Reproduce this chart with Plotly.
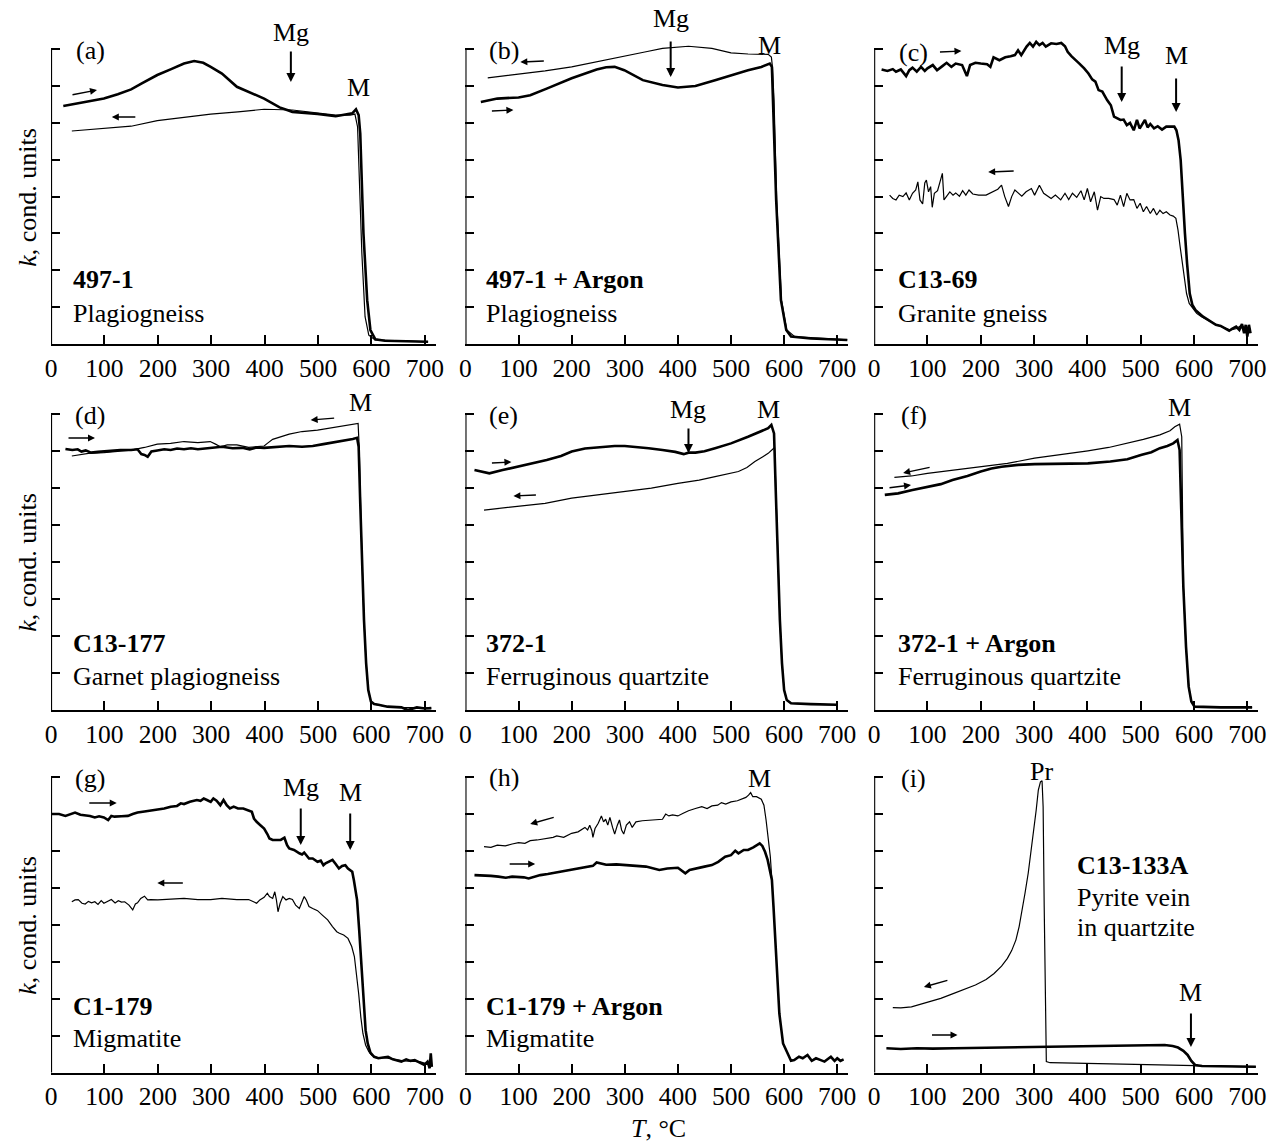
import plotly.graph_objects as go
from plotly.subplots import make_subplots

W, H = 1284, 1142
FONT = "Liberation Serif, Times New Roman, serif"

# ---------------- data (T in °C, k in conditional units) ----------------
# (a) 497-1
a_heat_T = [23, 60, 99, 125, 150, 170, 199, 225, 249, 268, 285, 299, 320, 348, 370, 399, 428, 452, 499, 533, 564, 571, 576, 579, 585, 592, 598, 607, 625, 700, 706]
a_heat_k = [6.46, 6.56, 6.66, 6.78, 6.91, 7.07, 7.30, 7.46, 7.61, 7.68, 7.63, 7.52, 7.34, 6.98, 6.84, 6.66, 6.42, 6.30, 6.24, 6.18, 6.26, 6.37, 6.21, 5.71, 3.00, 1.19, 0.38, 0.13, 0.09, 0.06, 0.06]
a_cool_T = [39, 99, 150, 199, 250, 299, 350, 399, 452, 499, 533, 560, 569, 574, 578, 582, 588, 595, 607, 650, 706]
a_cool_k = [5.78, 5.85, 5.91, 6.06, 6.15, 6.24, 6.30, 6.37, 6.35, 6.27, 6.21, 6.21, 6.24, 5.89, 4.27, 2.46, 0.74, 0.24, 0.11, 0.08, 0.06]

# (b) 497-1 + Argon
b_heat_T = [29, 60, 100, 122, 153, 200, 247, 265, 281, 299, 334, 371, 400, 433, 470, 500, 532, 557, 573, 577, 579, 585, 594, 604, 613, 650, 719]
b_heat_k = [6.57, 6.66, 6.69, 6.75, 6.93, 7.21, 7.45, 7.51, 7.52, 7.43, 7.16, 7.03, 6.96, 7.00, 7.16, 7.30, 7.43, 7.52, 7.61, 7.52, 6.62, 3.91, 1.19, 0.38, 0.20, 0.15, 0.11]
b_cool_T = [42, 100, 150, 200, 250, 299, 340, 371, 420, 464, 500, 532, 570, 576, 578, 581, 586, 595, 605, 620, 719]
b_cool_k = [7.22, 7.32, 7.41, 7.52, 7.66, 7.81, 7.93, 8.02, 8.08, 8.02, 7.90, 7.87, 7.86, 7.79, 7.52, 6.62, 3.91, 1.19, 0.38, 0.20, 0.11]

# (c) C13-69
c_heat_T = [14, 25, 35, 41, 50, 60, 66, 72, 80, 88, 95, 100, 110, 118, 128, 136, 145, 153, 165, 174, 180, 190, 200, 212, 218, 224, 235, 246, 256, 264, 270, 276, 286, 292, 298, 304, 310, 316, 322, 332, 342, 351, 358, 363, 370, 376, 385, 394, 402, 409, 415, 421, 428, 437, 444, 450, 456, 462, 468, 474, 480, 487, 493, 498, 502, 508, 513, 518, 525, 532, 540, 548, 556, 563, 567, 571, 575, 579, 583, 587, 592, 597, 603, 610, 617, 625, 634, 641, 650, 658, 666, 672, 679, 685, 690, 694, 697, 700, 703, 706]
c_heat_k = [7.45, 7.41, 7.46, 7.39, 7.45, 7.27, 7.43, 7.50, 7.39, 7.52, 7.41, 7.48, 7.57, 7.43, 7.54, 7.63, 7.52, 7.61, 7.57, 7.27, 7.57, 7.63, 7.61, 7.59, 7.52, 7.78, 7.70, 7.78, 7.81, 7.84, 7.97, 7.84, 8.07, 8.17, 8.07, 8.20, 8.11, 8.17, 8.07, 8.16, 8.14, 8.17, 8.08, 7.93, 7.81, 7.72, 7.61, 7.48, 7.34, 7.18, 7.12, 6.89, 6.85, 6.62, 6.48, 6.17, 6.12, 6.08, 6.09, 5.94, 6.00, 5.80, 6.08, 5.85, 5.94, 6.08, 5.88, 5.97, 5.85, 5.91, 5.82, 5.90, 5.90, 5.90, 5.80, 5.53, 4.99, 3.91, 3.00, 2.19, 1.37, 1.06, 0.92, 0.83, 0.74, 0.67, 0.58, 0.52, 0.49, 0.42, 0.36, 0.42, 0.47, 0.38, 0.54, 0.29, 0.52, 0.20, 0.52, 0.29]
c_cool_T = [29, 35, 41, 47, 54, 60, 66, 72, 78, 82, 86, 91, 95, 98, 102, 106, 109, 113, 119, 124, 128, 131, 136, 142, 148, 153, 160, 166, 172, 178, 185, 196, 210, 222, 232, 239, 245, 252, 258, 264, 270, 277, 285, 295, 301, 310, 318, 326, 332, 340, 350, 358, 365, 372, 380, 388, 394, 400, 406, 413, 419, 425, 431, 440, 450, 456, 462, 468, 474, 480, 487, 493, 499, 505, 511, 518, 524, 530, 536, 542, 548, 555, 561, 566, 570, 574, 578, 582, 586, 591, 597, 605, 614, 625, 640, 655, 668, 680, 690, 700, 706]
c_cool_k = [4.04, 3.95, 3.91, 4.04, 4.00, 4.10, 3.91, 4.09, 4.18, 4.40, 3.91, 3.80, 4.37, 4.45, 4.13, 4.27, 3.71, 4.09, 4.16, 4.45, 4.63, 3.91, 4.00, 4.13, 4.04, 4.10, 4.01, 4.16, 4.04, 4.18, 4.07, 4.04, 4.04, 4.13, 4.20, 4.31, 4.00, 3.73, 4.00, 4.18, 4.10, 4.01, 4.13, 4.22, 4.04, 4.31, 4.09, 4.00, 3.95, 4.04, 3.91, 4.09, 3.92, 4.09, 3.98, 4.16, 3.91, 4.22, 3.86, 4.13, 3.63, 4.00, 3.95, 3.95, 3.92, 3.77, 4.04, 3.73, 4.09, 3.91, 3.92, 3.68, 3.82, 3.59, 3.73, 3.54, 3.68, 3.50, 3.63, 3.54, 3.59, 3.50, 3.47, 3.41, 3.09, 2.64, 2.19, 1.74, 1.37, 1.10, 0.97, 0.83, 0.74, 0.65, 0.54, 0.45, 0.38, 0.42, 0.52, 0.29, 0.38]

# (d) C13-177
d_heat_T = [27, 40, 50, 57, 65, 75, 88, 99, 115, 130, 150, 162, 169, 175, 181, 188, 199, 212, 224, 236, 249, 262, 275, 298, 320, 340, 358, 372, 385, 399, 420, 446, 470, 490, 510, 533, 550, 565, 573, 576, 579, 582, 586, 590, 594, 599, 605, 613, 630, 656, 668, 685, 700, 712]
d_heat_k = [7.05, 7.02, 7.04, 6.98, 7.01, 6.95, 6.97, 6.98, 7.01, 7.02, 7.02, 7.04, 6.91, 6.89, 6.84, 6.98, 7.01, 7.04, 7.02, 7.06, 7.04, 7.07, 7.04, 7.08, 7.11, 7.07, 7.08, 7.04, 7.09, 7.08, 7.11, 7.13, 7.11, 7.13, 7.18, 7.23, 7.27, 7.32, 7.35, 7.11, 5.58, 4.23, 2.43, 1.26, 0.54, 0.23, 0.16, 0.14, 0.09, 0.07, 0.00, 0.07, 0.04, 0.05]
d_cool_T = [39, 55, 70, 99, 120, 150, 175, 199, 224, 249, 275, 298, 308, 317, 330, 348, 370, 399, 405, 415, 446, 470, 499, 520, 545, 565, 575, 577, 579, 582, 586, 590, 594, 599, 605, 613, 630, 656, 685, 712]
d_cool_k = [6.86, 6.89, 6.93, 6.95, 6.98, 7.02, 7.09, 7.18, 7.20, 7.25, 7.22, 7.25, 7.18, 7.11, 7.16, 7.16, 7.09, 7.13, 7.20, 7.31, 7.45, 7.52, 7.56, 7.61, 7.65, 7.71, 7.74, 7.11, 5.58, 4.23, 2.43, 1.26, 0.54, 0.23, 0.16, 0.14, 0.09, 0.07, 0.07, 0.05]

# (e) 372-1
e_heat_T = [17, 30, 45, 70, 100, 130, 153, 180, 200, 225, 247, 265, 281, 300, 321, 345, 371, 395, 411, 420, 433, 450, 470, 500, 532, 557, 570, 576, 581, 584, 588, 592, 596, 600, 605, 613, 650, 700]
e_heat_k = [6.48, 6.44, 6.39, 6.48, 6.57, 6.68, 6.75, 6.86, 6.98, 7.06, 7.09, 7.12, 7.13, 7.13, 7.11, 7.07, 7.02, 6.97, 6.91, 6.95, 6.95, 6.99, 7.07, 7.20, 7.38, 7.52, 7.61, 7.70, 7.47, 6.03, 4.23, 2.43, 1.26, 0.54, 0.27, 0.18, 0.16, 0.14]
e_cool_T = [35, 60, 100, 150, 200, 250, 299, 350, 400, 440, 470, 500, 514, 530, 545, 560, 570, 582, 584, 588, 592, 596, 600, 605, 613, 650, 700]
e_cool_k = [5.40, 5.44, 5.49, 5.58, 5.72, 5.81, 5.90, 5.99, 6.12, 6.21, 6.30, 6.39, 6.44, 6.55, 6.71, 6.84, 6.93, 7.09, 6.03, 4.23, 2.43, 1.26, 0.54, 0.27, 0.18, 0.16, 0.14]

# (f) 372-1 + Argon
f_heat_T = [20, 45, 72, 100, 125, 147, 175, 200, 220, 239, 270, 301, 351, 401, 443, 475, 502, 520, 536, 550, 561, 569, 573, 576, 580, 585, 590, 595, 601, 650, 709]
f_heat_k = [5.81, 5.85, 5.94, 6.03, 6.10, 6.21, 6.32, 6.44, 6.52, 6.57, 6.62, 6.64, 6.64, 6.66, 6.71, 6.77, 6.89, 6.96, 7.07, 7.13, 7.20, 7.29, 7.02, 5.13, 3.33, 1.71, 0.63, 0.23, 0.09, 0.07, 0.07]
f_cool_T = [38, 70, 100, 150, 200, 250, 301, 350, 401, 440, 474, 505, 536, 555, 564, 573, 577, 580, 585, 590, 595, 601, 650, 709]
f_cool_k = [6.28, 6.32, 6.39, 6.48, 6.55, 6.66, 6.80, 6.89, 7.00, 7.09, 7.20, 7.31, 7.43, 7.54, 7.65, 7.72, 7.38, 3.33, 1.71, 0.63, 0.23, 0.09, 0.07, 0.07]

# (g) C1-179
g_heat_T = [2, 15, 27, 36, 45, 55, 64, 73, 82, 90, 99, 107, 113, 119, 132, 144, 153, 162, 175, 187, 199, 212, 224, 236, 243, 249, 260, 267, 273, 280, 286, 292, 299, 304, 310, 317, 323, 329, 335, 342, 350, 360, 368, 376, 380, 385, 392, 399, 405, 409, 415, 422, 430, 437, 442, 446, 455, 465, 470, 474, 479, 483, 490, 499, 505, 510, 514, 520, 527, 533, 539, 545, 551, 556, 560, 564, 567, 573, 577, 581, 585, 589, 593, 598, 605, 613, 622, 631, 640, 648, 656, 665, 673, 681, 690, 699, 705, 709, 711, 713]
g_heat_k = [6.99, 6.99, 6.94, 6.99, 7.03, 6.97, 6.96, 6.94, 6.90, 6.93, 6.90, 6.83, 6.94, 6.92, 6.93, 6.94, 6.99, 7.03, 7.06, 7.08, 7.12, 7.14, 7.19, 7.21, 7.28, 7.26, 7.32, 7.35, 7.37, 7.35, 7.41, 7.37, 7.32, 7.41, 7.35, 7.23, 7.37, 7.23, 7.14, 7.19, 7.14, 7.14, 7.10, 7.05, 6.87, 6.78, 6.69, 6.60, 6.45, 6.33, 6.29, 6.29, 6.29, 6.35, 6.15, 6.06, 6.02, 5.93, 5.90, 5.95, 5.86, 5.79, 5.79, 5.70, 5.73, 5.61, 5.66, 5.70, 5.75, 5.64, 5.52, 5.59, 5.61, 5.52, 5.48, 5.43, 5.21, 4.67, 3.86, 2.86, 1.87, 1.15, 0.79, 0.54, 0.43, 0.39, 0.41, 0.43, 0.36, 0.34, 0.30, 0.36, 0.32, 0.34, 0.27, 0.21, 0.30, 0.12, 0.52, 0.16]
g_cool_T = [39, 45, 51, 58, 64, 70, 76, 82, 88, 94, 99, 106, 113, 120, 126, 132, 138, 146, 153, 158, 162, 168, 175, 181, 187, 200, 212, 224, 249, 275, 299, 320, 348, 370, 385, 391, 399, 405, 409, 415, 419, 422, 425, 429, 434, 440, 446, 452, 458, 465, 470, 474, 478, 483, 490, 499, 508, 518, 527, 535, 540, 548, 556, 563, 568, 572, 576, 580, 584, 589, 595, 600, 610, 630, 660, 690, 710]
g_cool_k = [4.62, 4.67, 4.68, 4.58, 4.56, 4.63, 4.59, 4.62, 4.55, 4.65, 4.58, 4.62, 4.68, 4.59, 4.65, 4.61, 4.62, 4.53, 4.40, 4.56, 4.59, 4.71, 4.77, 4.67, 4.68, 4.67, 4.68, 4.68, 4.71, 4.68, 4.68, 4.71, 4.68, 4.68, 4.58, 4.67, 4.74, 4.85, 4.76, 4.71, 4.89, 4.67, 4.35, 4.58, 4.76, 4.67, 4.71, 4.68, 4.53, 4.44, 4.62, 4.76, 4.67, 4.49, 4.44, 4.38, 4.26, 4.13, 3.95, 3.81, 3.77, 3.72, 3.63, 3.41, 3.14, 2.68, 2.14, 1.51, 1.06, 0.75, 0.57, 0.48, 0.41, 0.39, 0.32, 0.30, 0.21]

# (h) C1-179 + Argon
h_heat_T = [17, 30, 48, 62, 76, 88, 100, 110, 119, 130, 141, 155, 170, 185, 200, 212, 225, 240, 247, 254, 265, 284, 300, 321, 340, 365, 380, 400, 408, 414, 422, 433, 450, 464, 476, 489, 500, 508, 514, 524, 532, 542, 549, 554, 559, 564, 569, 573, 577, 580, 585, 591, 598, 607, 613, 619, 628, 635, 644, 652, 660, 669, 676, 688, 695, 700, 706, 712]
h_heat_k = [5.34, 5.34, 5.32, 5.30, 5.27, 5.30, 5.30, 5.28, 5.25, 5.30, 5.34, 5.37, 5.41, 5.43, 5.48, 5.51, 5.55, 5.59, 5.68, 5.66, 5.62, 5.63, 5.61, 5.59, 5.57, 5.48, 5.52, 5.54, 5.46, 5.39, 5.48, 5.52, 5.57, 5.61, 5.70, 5.84, 5.88, 6.00, 5.93, 6.02, 6.02, 6.09, 6.15, 6.20, 6.13, 5.97, 5.75, 5.52, 5.21, 4.49, 3.14, 1.60, 0.79, 0.48, 0.32, 0.34, 0.43, 0.39, 0.48, 0.32, 0.39, 0.34, 0.30, 0.43, 0.32, 0.39, 0.32, 0.36]
h_cool_T = [35, 48, 60, 75, 88, 100, 112, 122, 135, 153, 165, 172, 185, 200, 212, 225, 230, 234, 238, 240, 244, 250, 256, 260, 264, 268, 272, 277, 281, 286, 290, 294, 298, 303, 309, 314, 321, 333, 346, 358, 371, 377, 383, 390, 400, 410, 420, 433, 445, 455, 464, 475, 482, 490, 500, 512, 520, 528, 533, 537, 541, 548, 557, 562, 566, 570, 574, 577]
h_cool_k = [6.11, 6.09, 6.15, 6.13, 6.18, 6.22, 6.20, 6.27, 6.29, 6.33, 6.36, 6.40, 6.36, 6.47, 6.51, 6.63, 6.56, 6.69, 6.54, 6.36, 6.60, 6.74, 6.94, 6.78, 6.85, 6.69, 6.90, 6.63, 6.45, 6.69, 6.83, 6.56, 6.45, 6.69, 6.78, 6.63, 6.78, 6.81, 6.83, 6.85, 6.85, 6.99, 6.94, 6.97, 6.94, 7.01, 7.08, 7.14, 7.19, 7.14, 7.21, 7.23, 7.30, 7.26, 7.32, 7.35, 7.39, 7.44, 7.50, 7.57, 7.46, 7.46, 7.39, 7.23, 6.83, 6.38, 5.84, 5.21]

# (i) C13-133A
i_heat_T = [23, 50, 80, 110, 150, 200, 250, 300, 350, 400, 450, 500, 545, 560, 570, 580, 588, 595, 602, 615, 650, 700, 716]
i_heat_k = [0.66, 0.64, 0.66, 0.65, 0.66, 0.67, 0.68, 0.69, 0.70, 0.72, 0.73, 0.74, 0.75, 0.72, 0.68, 0.59, 0.48, 0.32, 0.21, 0.18, 0.18, 0.16, 0.16]
i_cool_T = [35, 50, 70, 100, 125, 147, 170, 190, 210, 225, 239, 250, 258, 266, 272, 278, 283, 289, 294, 299, 304, 308, 312, 315, 317, 319, 321, 323, 330, 400, 500, 598, 650, 716]
i_cool_k = [1.76, 1.75, 1.78, 1.90, 2.01, 2.13, 2.25, 2.37, 2.52, 2.68, 2.88, 3.09, 3.30, 3.59, 3.95, 4.40, 4.85, 5.39, 5.93, 6.47, 7.10, 7.64, 7.86, 7.89, 7.19, 4.49, 1.78, 0.30, 0.27, 0.25, 0.23, 0.21, 0.18, 0.16]

panels = [
    (a_heat_T, a_heat_k, a_cool_T, a_cool_k),
    (b_heat_T, b_heat_k, b_cool_T, b_cool_k),
    (c_heat_T, c_heat_k, c_cool_T, c_cool_k),
    (d_heat_T, d_heat_k, d_cool_T, d_cool_k),
    (e_heat_T, e_heat_k, e_cool_T, e_cool_k),
    (f_heat_T, f_heat_k, f_cool_T, f_cool_k),
    (g_heat_T, g_heat_k, g_cool_T, g_cool_k),
    (h_heat_T, h_heat_k, h_cool_T, h_cool_k),
    (i_heat_T, i_heat_k, i_cool_T, i_cool_k),
]

x_tickvals = [0, 100, 200, 300, 400, 500, 600, 700]
y_tickvals = [1, 2, 3, 4, 5, 6, 7, 8]

# ---------------- layout geometry (pixels) ----------------
col_geo = [(45.5, 54.0), (464.5, 53.7), (877.7, 53.9)]      # x of T=0, px per 100 °C
row_geo = [(344.0, 36.85), (710.0, 37.03), (1072.7, 37.0)]  # y of k=0, px per unit
XMAX, YMAX = 720, 9

fig = make_subplots(rows=3, cols=3)

for idx, (hT, hk, cT, ck) in enumerate(panels):
    r, c = idx // 3 + 1, idx % 3 + 1
    fig.add_trace(go.Scatter(x=cT, y=ck, mode="lines", line=dict(color="black", width=1.2),
                             showlegend=False, hoverinfo="skip"), row=r, col=c)
    fig.add_trace(go.Scatter(x=hT, y=hk, mode="lines", line=dict(color="black", width=2.6),
                             showlegend=False, hoverinfo="skip"), row=r, col=c)

for idx in range(9):
    r, c = idx // 3, idx % 3
    x0, sx = col_geo[c]
    y0, sy = row_geo[r]
    n = idx + 1
    xname = "xaxis" if n == 1 else f"xaxis{n}"
    yname = "yaxis" if n == 1 else f"yaxis{n}"
    fig.layout[xname].update(
        domain=[x0 / W, (x0 + sx * XMAX / 100) / W], range=[0, XMAX],
        showline=True, linecolor="black", linewidth=2.2, ticks="inside", ticklen=9,
        tickwidth=2, tickcolor="black", tickvals=x_tickvals, showgrid=False, zeroline=False,
        tickfont=dict(family=FONT, size=25.5, color="black"))
    fig.layout[yname].update(
        domain=[1 - y0 / H, 1 - (y0 - sy * YMAX) / H], range=[0, YMAX],
        showline=False, ticks="inside", ticklen=9, tickwidth=2, tickcolor="black",
        tickvals=y_tickvals, showticklabels=False, showgrid=False, zeroline=False)
    xr = "x" if n == 1 else f"x{n}"
    yr = "y" if n == 1 else f"y{n}"
    fig.add_shape(type="line", xref=xr, yref=yr, x0=0, x1=0, y0=0, y1=8,
                  line=dict(color="black", width=2.2))

ann = []

def P(x, y):
    return x / W, 1 - y / H

def text(s, x, y, xanchor="center", size=26):
    px_, py_ = P(x, y)
    ann.append(dict(text=s, x=px_, y=py_, xref="paper", yref="paper", showarrow=False,
                    xanchor=xanchor, yanchor="middle",
                    font=dict(family=FONT, size=size, color="black")))

def arrow(tx, ty, hx, hy, width=1.4, size=1.0):
    px_, py_ = P(hx, hy)
    ann.append(dict(text="", x=px_, y=py_, xref="paper", yref="paper", showarrow=True,
                    ax=tx - hx, ay=ty - hy, arrowhead=2, arrowsize=size, arrowwidth=width,
                    arrowcolor="black", standoff=0, startstandoff=0))

# panel letters
for s, x, y in [("(a)", 85, 51), ("(b)", 503, 50), ("(c)", 918, 52),
                ("(d)", 85, 415), ("(e)", 503, 415), ("(f)", 918, 415),
                ("(g)", 85, 778), ("(h)", 503, 777), ("(i)", 918, 778)]:
    text(s, x, y)

# sample names
for s, x, y in [("<b>497-1</b>", 66, 279), ("Plagiogneiss", 66, 313),
                ("<b>497-1 + Argon</b>", 483, 279), ("Plagiogneiss", 483, 313),
                ("<b>C13-69</b>", 900, 279), ("Granite gneiss", 900, 313),
                ("<b>C13-177</b>", 66, 643), ("Garnet plagiogneiss", 66, 676),
                ("<b>372-1</b>", 483, 643), ("Ferruginous quartzite", 483, 676),
                ("<b>372-1 + Argon</b>", 900, 643), ("Ferruginous quartzite", 900, 676),
                ("<b>C1-179</b>", 66, 1006), ("Migmatite", 66, 1038),
                ("<b>C1-179 + Argon</b>", 483, 1006), ("Migmatite", 483, 1038),
                ("<b>C13-133A</b>", 1081, 865), ("Pyrite vein", 1081, 897), ("in quartzite", 1081, 927)]:
    text(s, x, y, xanchor="left")

# transition labels
for s, x, y in [("Mg", 288, 32), ("M", 356, 88),
                ("Mg", 672, 18), ("M", 772, 45),
                ("Mg", 1128, 45), ("M", 1183, 55),
                ("M", 358, 403),
                ("Mg", 690, 409), ("M", 771, 409),
                ("M", 1186, 408),
                ("Mg", 298, 787), ("M", 348, 792),
                ("M", 762, 779),
                ("Pr", 1047, 771), ("M", 1198, 992)]:
    text(s, x, y)

for tx, ty, hx, hy in [(288, 50, 288, 82), (672, 40, 672, 77), (1128, 65, 1128, 102),
                       (1183, 77, 1183, 112), (690, 427, 690, 453), (298, 807, 298, 845),
                       (348, 812, 348, 850), (1198, 1012, 1198, 1047)]:
    arrow(tx, ty, hx, hy, width=2.0, size=0.9)

# heating / cooling direction arrows
for tx, ty, hx, hy in [(66, 95, 92, 90), (132, 117, 107, 117),
                       (545, 61, 520, 62), (490, 111, 513, 110),
                       (943, 52, 966, 51), (1020, 171, 993, 172),
                       (62, 438, 90, 438), (333, 418, 308, 420),
                       (490, 463, 511, 462), (537, 495, 513, 496),
                       (935, 467, 907, 473), (892, 488, 915, 485),
                       (83, 803, 112, 803), (180, 883, 153, 883),
                       (555, 817, 530, 824), (508, 864, 535, 864),
                       (953, 980, 928, 987), (935, 1035, 962, 1035)]:
    arrow(tx, ty, hx, hy, width=1.4, size=1.0)

# axis titles
for y in (197, 562, 925):
    px_, py_ = P(21, y)
    ann.append(dict(text="<i>k</i>, cond. units", x=px_, y=py_, xref="paper", yref="paper",
                    showarrow=False, textangle=-90, xanchor="center", yanchor="middle",
                    font=dict(family=FONT, size=26, color="black")))
text("<i>T</i>, °C", 660, 1128)

fig.update_layout(width=W, height=H, margin=dict(l=0, r=0, t=0, b=0),
                  paper_bgcolor="white", plot_bgcolor="white", annotations=ann,
                  showlegend=False)

page_fix = ("document.documentElement.style.margin='0';document.documentElement.style.padding='0';"
            "document.documentElement.style.overflow='hidden';"
            "document.body.style.margin='0';document.body.style.padding='0';"
            "document.body.style.overflow='hidden';")

fig.write_html("out.html", post_script=page_fix, config={"displayModeBar": False})
